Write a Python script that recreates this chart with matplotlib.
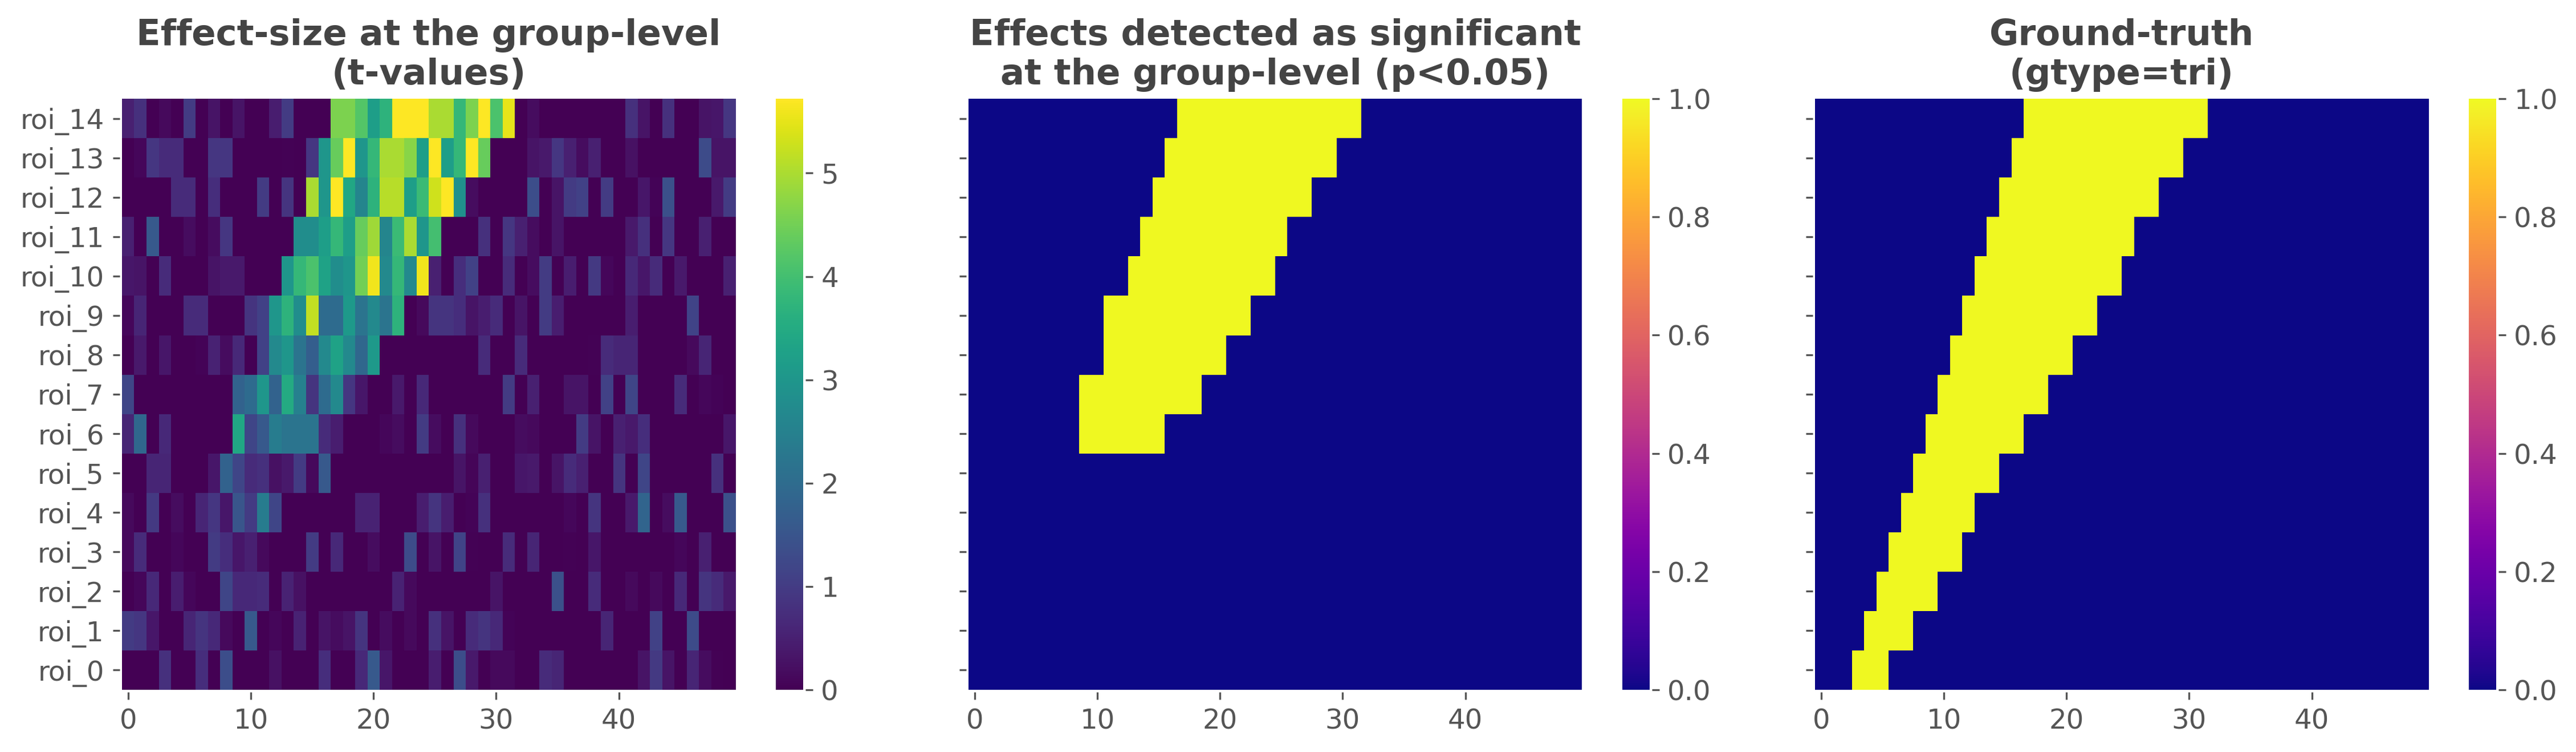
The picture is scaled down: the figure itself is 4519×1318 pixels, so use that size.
import numpy as np
import matplotlib
matplotlib.use("Agg")
import matplotlib.pyplot as plt

# t-values per roi (roi_0 first)
roi_0 = [0,0,0,.8,0,0,.75,0,1.35,0,0,0,.25,0,0,0,.75,0,.02,.65,1.6,.35,0,0,0,.45,0,1.35,.4,0,.15,.15,0,0,.7,.6,0,0,0,0,0,0,.3,.95,.3,0,.6,.2,.03,0]
roi_1 = [1.0,.9,.35,0,0,.6,.85,.65,.15,0,1.6,0,.1,0,.55,0,.3,.2,.3,.85,0,.2,0,.15,0,.8,.3,0,.7,.85,.65,.05,0,0,0,0,0,0,0,.6,0,0,0,1.1,0,0,1.3,0,0,.02]
roi_2 = [0,.1,.65,0,.45,.1,0,0,1.2,.65,.65,.7,0,.55,.25,0,0,0,0,0,0,0,.55,.15,0,0,0,0,0,0,.3,0,0,0,0,1.4,0,0,.7,0,0,.15,0,.15,0,.65,0,.85,.7,.4]
roi_3 = [.15,.7,0,0,.1,0,0,1.0,.75,.35,.5,.15,0,0,0,1.0,0,.65,0,0,.2,0,0,1.3,0,.3,0,1.15,.04,0,0,.7,0,.6,0,0,.03,0,.35,0,0,0,0,0,0,.1,0,.5,0,0]
roi_4 = [.15,0,.95,0,.2,0,.6,.9,.35,1.5,1.0,2.4,1.2,0,0,0,0,0,0,.55,.55,0,0,0,.45,.85,.45,0,.05,.8,0,0,0,0,0,0,.1,0,.85,0,0,.4,1.85,0,.2,1.6,0,0,0,1.4]
roi_5 = [0,0,.6,.6,0,0,0,.35,1.8,1.2,.7,.8,.25,.4,1.0,.15,1.6,0,0,0,0,0,0,0,0,0,0,.3,.08,.5,0,0,.35,.4,0,.3,.7,.5,0,0,.85,0,1.2,0,0,0,0,0,.8,0]
roi_6 = [.6,1.9,0,.65,0,0,0,0,0,3.4,1.2,1.6,2.4,2.2,2.2,2.2,.7,.45,0,0,0,.1,.2,0,1.0,.2,0,.8,.15,0,0,0,.2,.15,0,0,0,1.0,.3,0,.5,.4,.75,0,0,0,0,0,0,.35]
roi_7 = [1.2,0,0,0,0,0,0,0,0,1.8,2.0,3.0,1.8,3.5,2.5,.85,2.0,2.7,.9,.35,0,0,.4,0,.65,0,0,0,0,0,0,1.0,0,.5,0,0,.3,.3,0,1.1,0,1.2,0,0,0,.7,0,.1,.05,0]
roi_8 = [0,.4,0,.35,0,0,.05,.55,.2,.65,0,1.1,2.7,3.0,2.2,1.7,2.7,3.3,2.7,1.9,3.1,0,0,0,0,0,0,0,0,.7,0,0,.7,0,0,0,0,.02,.03,.7,.6,.6,0,0,0,0,.15,.6,0,0]
roi_9 = [.1,.6,0,0,0,.7,.7,0,0,0,.85,1.1,3.0,3.7,2.8,5.2,2.0,2.0,3.1,2.2,2.7,2.2,3.7,0,.15,.85,.85,.75,.3,.45,.7,0,.3,0,1.0,.45,0,0,0,0,0,.45,0,0,0,0,1.15,0,0,0]
roi_10 = [.35,.3,0,.7,0,0,0,.3,.4,.4,0,0,0,3.0,3.8,4.1,3.3,2.8,3.0,4.5,5.6,2.7,3.8,2.7,5.6,.5,0,.75,1.1,0,.02,.7,0,.2,1.0,0,.45,0,.95,.1,0,.65,.35,.7,0,.4,0,0,0,.5]
roi_11 = [.5,0,1.6,0,0,.2,0,.2,.9,0,0,0,0,0,2.8,2.8,3.2,3.8,3.2,4.4,4.9,2.6,3.9,5.0,3.0,4.0,0,0,0,.8,0,.9,.5,.2,0,.3,0,0,0,0,0,.4,.8,0,.9,0,0,.5,0,0]
roi_12 = [0,0,0,0,.7,.7,0,.75,0,0,0,1.0,0,.85,0,5.0,3.0,5.7,3.4,2.6,3.7,5.1,5.1,3.2,3.9,5.3,5.7,2.9,.2,0,0,0,0,1.35,0,.3,1.0,1.1,0,1.0,0,0,.35,.05,1.4,0,0,0,.4,1.0]
roi_13 = [0,.1,.9,.7,.7,0,0,.9,.9,0,0,0,0,.03,0,.9,3.0,4.4,5.7,3.0,3.8,5.0,5.0,4.7,3.2,5.7,3.2,3.8,5.7,4.4,0,0,0,.3,.4,.9,.5,.2,.5,0,0,.25,0,0,0,0,0,1.3,.3,.3]
roi_14 = [.5,.8,0,.15,0,1.0,0,.3,0,.3,0,0,.45,1.0,0,0,0,4.6,4.6,4.2,3.2,3.7,5.7,5.7,5.7,5.0,5.0,3.8,4.6,5.7,4.1,5.5,0,.2,0,0,0,0,0,0,0,.8,.3,0,.8,0,0,.3,.35,.9]

roi_names = ["roi_%d" % i for i in range(15)]

# first and last time index of the yellow band, per roi
# (-1 means nothing significant on that roi)
sig_start = [-1, -1, -1, -1, -1, -1, 9, 9, 11, 11, 13, 14, 15, 16, 17]
sig_stop = [-1, -1, -1, -1, -1, -1, 15, 18, 20, 22, 24, 25, 27, 29, 31]
true_start = [3, 4, 5, 6, 7, 8, 9, 10, 11, 12, 13, 14, 15, 16, 17]
true_stop = [5, 7, 9, 11, 12, 14, 16, 18, 20, 22, 24, 25, 27, 29, 31]

TVALS_MAX = 5.72
N_TIMES = 50
W, H = 4519, 1318
TICK_GAP = 1.0  # small white gap between the ticks and the heatmap


def band_matrix(start, stop):
    mat = np.zeros((len(start), N_TIMES))
    for i in range(len(start)):
        if start[i] >= 0:
            mat[i, start[i]:stop[i] + 1] = 1
    return mat


def draw_panel(x0, x1, cx0, cx1, data, cmap, vmax, title, show_names=False):
    top, bottom = 173, 1209
    ax = fig.add_axes([x0 / W, 1 - bottom / H, (x1 - x0) / W, (bottom - top) / H])
    im = ax.imshow(data, origin="lower", aspect="auto", cmap=cmap, vmin=0, vmax=vmax)
    ax.set_xticks([0, 10, 20, 30, 40])
    ax.set_yticks(range(15))
    if show_names:
        ax.set_yticklabels(roi_names)
    else:
        ax.set_yticklabels([])
    ax.set_title(title, fontsize=15, fontweight="bold", color="#444444", pad=6, linespacing=1.2)
    ax.tick_params(colors="#555555", labelsize=11.6, length=3, width=0.8)
    for spine in ax.spines.values():
        spine.set_position(("outward", TICK_GAP))
        spine.set_visible(False)

    cax = fig.add_axes([cx0 / W, 1 - bottom / H, (cx1 - cx0) / W, (bottom - top) / H])
    cbar = fig.colorbar(im, cax=cax)
    cbar.outline.set_visible(False)
    cbar.ax.tick_params(colors="#555555", labelsize=11.6, length=3, width=0.8)
    cbar.ax.spines["right"].set_position(("outward", TICK_GAP))
    return ax


tvals = np.array([roi_0, roi_1, roi_2, roi_3, roi_4, roi_5, roi_6, roi_7,
                  roi_8, roi_9, roi_10, roi_11, roi_12, roi_13, roi_14])

fig = plt.figure(figsize=(W / 300, H / 300), dpi=300)

draw_panel(214, 1290, 1361, 1409, tvals, "viridis", TVALS_MAX,
           "Effect-size at the group-level\n(t-values)", show_names=True)
draw_panel(1699, 2775, 2846, 2894, band_matrix(sig_start, sig_stop), "plasma", 1,
           "Effects detected as significant\nat the group-level (p<0.05)")
draw_panel(3184, 4260, 4331, 4379, band_matrix(true_start, true_stop), "plasma", 1,
           "Ground-truth\n(gtype=tri)")

fig.savefig("out.png", dpi=300)
